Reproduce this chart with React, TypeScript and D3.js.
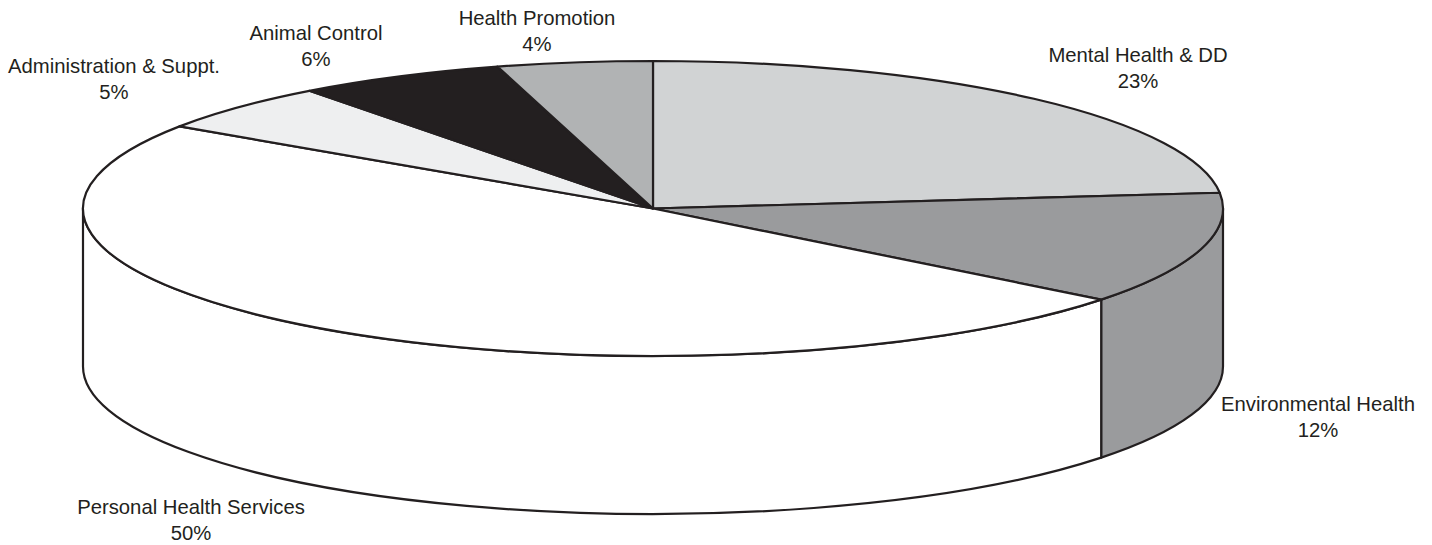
import React from "react";
import * as d3 from "d3";

const categories = ["Mental Health & DD", "Environmental Health", "Personal Health Services", "Administration & Suppt.", "Animal Control", "Health Promotion"];
const percentLabels = ["23%", "12%", "50%", "5%", "6%", "4%"];
const shares = [23.3, 12.3, 48.8, 5.3, 5.9, 4.4];
const fills = ["#d1d3d4", "#9a9b9d", "#ffffff", "#eeeff0", "#231f20", "#b1b3b4"];
const labelAnchors: [number, number][] = [[1138, 62], [1318, 411], [191, 514], [114, 73], [316, 40], [537, 25]];

const cx = 653, cy = 208.5, rx = 570, ry = 147.5, depth = 158;

export default function App() {
  const arcs = d3.pie<number>().sort(null).value((d) => d)(shares);
  const pt = (t: number, dy = 0): [number, number] => [cx + rx * Math.sin(t), cy - ry * Math.cos(t) + dy];
  const ell = (a: number, b: number, dy = 0) => {
    const [x0, y0] = pt(a, dy), [x1, y1] = pt(b, dy);
    return `M${x0},${y0}A${rx},${ry} 0 ${b - a > Math.PI ? 1 : 0} 1 ${x1},${y1}`;
  };
  const slice = (a: number, b: number) => `M${cx},${cy}L${pt(a).join(",")}${ell(a, b).replace(/^M[^A]+/, "")}Z`;
  const side = (a: number, b: number) => {
    const s = Math.max(a, Math.PI / 2), e = Math.min(b, Math.PI * 1.5);
    if (e <= s) return null;
    const [x1, y1] = pt(e), [x0, y0] = pt(s);
    return `${ell(s, e, depth)}L${x1},${y1}A${rx},${ry} 0 ${e - s > Math.PI ? 1 : 0} 0 ${x0},${y0}Z`;
  };
  return (
    <svg width={1432} height={545} style={{ position: "absolute", left: 0, top: 0 }} fontFamily="'Liberation Sans', Arial, sans-serif" fontSize={20.3} fill="#231f20">
      <rect width={1432} height={545} fill="#fff" />
      {arcs.map((d, i) => {
        const p = side(d.startAngle, d.endAngle);
        return p ? <path key={i} d={p} fill={fills[i]} stroke="#231f20" strokeWidth={2.2} strokeLinejoin="round" /> : null;
      })}
      {arcs.map((d, i) => (
        <path key={i} d={slice(d.startAngle, d.endAngle)} fill={fills[i]} stroke="#231f20" strokeWidth={2.2} strokeLinejoin="round" />
      ))}
      {categories.map((c, i) => (
        <text key={c} textAnchor="middle">
          <tspan x={labelAnchors[i][0]} y={labelAnchors[i][1]}>{c}</tspan>
          <tspan x={labelAnchors[i][0]} y={labelAnchors[i][1] + 26}>{percentLabels[i]}</tspan>
        </text>
      ))}
    </svg>
  );
}
